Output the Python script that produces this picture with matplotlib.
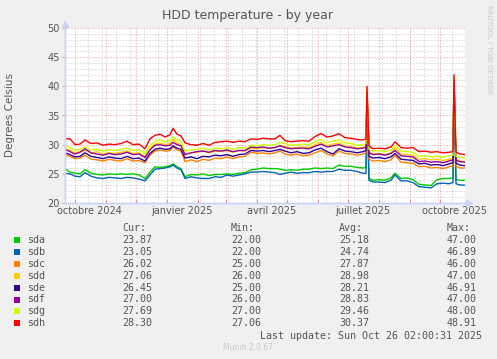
import numpy as np
import matplotlib
matplotlib.use('Agg')
import matplotlib.pyplot as plt
import matplotlib.dates as mdates
from matplotlib.lines import Line2D

# jours depuis le début du graphe (400 jours)
start = np.datetime64('2024-09-21T02:00')
days = [0, 5, 10, 15, 20, 26, 32, 38, 44, 50, 56, 62, 68, 74, 80, 85, 90, 95, 100, 105,
        108, 112, 116, 120, 126, 132, 138, 144, 150, 156, 162, 168, 174, 180, 186, 192, 198, 204, 210, 215,
        220, 226, 232, 238, 244, 250, 256, 262, 268, 274, 280, 286, 292, 298, 301, 302, 304, 308, 314, 320,
        326, 330, 336, 342, 348, 354, 360, 366, 372, 378, 384, 388, 389, 391, 395, 400]

sda = [25.9, 25.3, 25.1, 25.0, 25.7, 25.1, 24.9, 24.8, 25.0, 24.9, 25.0, 24.9, 25.0, 24.8, 24.2, 25.3, 26.2, 26.1, 26.2, 26.4,
       26.7, 26.2, 25.9, 24.5, 24.9, 24.8, 25.0, 24.7, 24.9, 24.9, 25.0, 24.9, 25.1, 25.2, 25.7, 25.8, 26.0, 25.9, 25.9, 25.8,
       25.6, 25.7, 25.6, 25.8, 25.8, 26.0, 25.9, 26.0, 25.9, 26.5, 26.3, 26.3, 26.1, 26.0, 26.1, 38.0, 24.2, 23.9, 24.0, 23.9,
       24.3, 25.1, 24.2, 24.3, 24.0, 23.2, 23.1, 23.0, 24.0, 24.2, 24.2, 24.3, 40.0, 24.0, 23.9, 23.9]
sdb = [25.1, 25.0, 24.6, 24.5, 25.2, 24.6, 24.3, 24.2, 24.4, 24.3, 24.2, 24.4, 24.3, 24.1, 23.8, 24.8, 25.8, 25.9, 26.0, 26.2,
       26.5, 26.0, 25.7, 24.2, 24.5, 24.3, 24.2, 24.2, 24.5, 24.4, 24.8, 24.6, 24.8, 25.0, 25.3, 25.3, 25.4, 25.3, 25.2, 24.9,
       25.1, 25.3, 25.1, 25.2, 25.2, 25.4, 25.3, 25.4, 25.4, 25.8, 25.6, 25.6, 25.4, 25.1, 25.1, 37.5, 23.9, 23.6, 23.6, 23.5,
       23.9, 24.8, 23.8, 23.8, 23.5, 22.8, 22.7, 22.6, 23.3, 23.4, 23.3, 23.5, 39.5, 23.3, 23.1, 23.05]
sdc = [28.3, 28.0, 27.6, 27.7, 28.2, 27.5, 27.4, 27.2, 27.5, 27.3, 27.2, 27.6, 27.2, 27.3, 26.9, 28.2, 28.9, 29.1, 28.9, 29.0,
       29.6, 29.1, 28.9, 27.1, 27.4, 27.1, 27.5, 27.3, 27.7, 27.6, 27.9, 27.6, 27.9, 28.0, 28.7, 28.5, 28.6, 28.4, 28.6, 28.9,
       28.4, 28.2, 28.4, 28.1, 28.2, 28.6, 29.0, 28.4, 28.1, 28.9, 28.5, 28.4, 28.2, 28.4, 28.6, 39.0, 27.5, 27.2, 27.3, 27.1,
       27.4, 28.2, 27.0, 26.9, 26.8, 26.2, 26.3, 26.0, 26.1, 25.9, 26.2, 26.4, 40.0, 26.3, 26.0, 26.0]
sdd = [29.3, 29.0, 28.6, 28.8, 29.1, 28.6, 28.8, 28.4, 28.6, 28.5, 28.7, 28.9, 28.5, 28.6, 28.0, 29.3, 30.1, 30.3, 30.0, 30.2,
       30.9, 30.3, 30.0, 28.4, 28.6, 28.7, 28.9, 28.6, 28.9, 28.8, 29.0, 28.7, 29.0, 28.9, 29.4, 29.3, 29.5, 29.4, 29.5, 29.9,
       29.7, 29.4, 29.5, 29.6, 29.5, 30.0, 30.4, 29.8, 30.1, 30.3, 29.8, 29.7, 29.4, 29.5, 29.7, 39.0, 28.7, 28.4, 28.5, 28.3,
       28.6, 29.4, 28.4, 28.3, 28.2, 27.5, 27.6, 27.4, 27.5, 27.3, 27.5, 27.6, 41.0, 27.5, 27.2, 27.1]
sde = [28.6, 28.3, 27.9, 28.0, 28.6, 28.0, 27.8, 27.6, 27.9, 27.7, 27.6, 28.0, 27.6, 27.7, 27.2, 28.5, 29.2, 29.4, 29.2, 29.3,
       29.8, 29.4, 29.2, 27.7, 27.9, 27.6, 28.0, 27.9, 28.2, 28.1, 28.3, 28.0, 28.3, 28.4, 29.0, 28.9, 29.0, 28.8, 29.0, 29.2,
       28.9, 28.6, 28.8, 28.5, 28.6, 29.1, 29.4, 28.8, 28.4, 29.3, 28.9, 28.8, 28.6, 28.8, 29.0, 38.5, 28.0, 27.7, 27.8, 27.6,
       27.9, 28.5, 27.5, 27.4, 27.3, 26.7, 26.8, 26.5, 26.6, 26.4, 26.7, 26.9, 40.5, 26.8, 26.5, 26.4]
sdf = [29.2, 28.8, 28.4, 28.7, 29.3, 28.6, 28.4, 28.2, 28.5, 28.3, 28.4, 28.7, 28.3, 28.4, 27.8, 29.1, 29.9, 30.0, 29.8, 29.9,
       30.4, 30.0, 29.8, 28.3, 28.6, 28.8, 28.9, 28.7, 29.0, 28.9, 29.1, 28.8, 29.0, 29.0, 29.6, 29.5, 29.6, 29.4, 29.5, 29.8,
       29.5, 29.3, 29.4, 29.4, 29.3, 29.7, 30.1, 29.6, 29.8, 30.0, 29.6, 29.5, 29.3, 29.4, 29.6, 39.0, 28.6, 28.3, 28.4, 28.2,
       28.5, 29.0, 28.1, 28.0, 27.9, 27.1, 27.2, 27.0, 27.1, 26.9, 27.2, 27.4, 41.0, 27.3, 27.1, 27.0]
sdg = [29.8, 29.5, 29.1, 29.2, 29.6, 29.1, 29.2, 28.9, 29.1, 29.0, 29.2, 29.4, 29.0, 29.1, 28.5, 29.8, 30.6, 30.8, 30.5, 30.7,
       31.4, 30.8, 30.5, 28.9, 29.1, 29.2, 29.4, 29.1, 29.4, 29.3, 29.5, 29.2, 29.5, 29.4, 29.9, 29.8, 30.0, 29.9, 30.0, 30.4,
       30.2, 29.9, 30.0, 30.1, 30.0, 30.5, 30.9, 30.3, 30.6, 30.8, 30.3, 30.2, 29.9, 30.0, 30.2, 39.5, 29.2, 28.9, 29.0, 28.8,
       29.1, 29.9, 28.9, 28.8, 28.7, 28.0, 28.1, 27.9, 28.0, 27.8, 28.1, 28.2, 41.5, 28.0, 27.8, 27.7]
sdh = [31.0, 31.0, 30.0, 30.1, 30.8, 30.2, 30.3, 29.9, 30.1, 30.0, 30.2, 30.6, 30.0, 30.1, 29.3, 31.0, 31.6, 31.8, 31.3, 31.7,
       32.8, 31.8, 31.5, 30.3, 30.0, 29.9, 30.2, 29.9, 30.4, 30.5, 30.6, 30.4, 30.6, 30.5, 31.0, 30.9, 31.1, 31.0, 31.0, 31.6,
       30.7, 30.5, 30.6, 30.7, 30.6, 31.4, 31.9, 31.3, 31.5, 31.9, 31.2, 31.1, 30.9, 30.8, 31.0, 40.0, 29.8, 29.3, 29.4, 29.3,
       29.6, 30.5, 29.5, 29.4, 29.5, 28.8, 28.9, 28.7, 28.8, 28.6, 28.7, 28.8, 42.0, 28.7, 28.4, 28.3]

names = ['sda', 'sdb', 'sdc', 'sdd', 'sde', 'sdf', 'sdg', 'sdh']
series = [sda, sdb, sdc, sdd, sde, sdf, sdg, sdh]
colors = ['#00CC00', '#0066B3', '#FF8000', '#FFCC00', '#330099', '#990099', '#CCFF00', '#FF0000']
cur = ['23.87', '23.05', '26.02', '27.06', '26.45', '27.00', '27.69', '28.30']
mins = ['22.00', '22.00', '25.00', '26.00', '25.00', '26.00', '27.00', '27.06']
avgs = ['25.18', '24.74', '27.87', '28.98', '28.21', '28.83', '29.46', '30.37']
maxs = ['47.00', '46.89', '46.00', '47.00', '46.91', '47.00', '48.00', '48.91']

month_labels = ['octobre 2024', 'janvier 2025', 'avril 2025', 'juillet 2025', 'octobre 2025']
label_dates = ['2024-10-16', '2025-01-16', '2025-04-16', '2025-07-16', '2025-10-16']

W, H = 497, 359
TXT = '#555555'
AXIS = '#c8d2f5'


def fx(px):
    return px / W


def fy(py):
    return 1 - py / H


fig = plt.figure(figsize=(W / 100, H / 100), dpi=100, facecolor='#f0f0f0')
ax = fig.add_axes([fx(65), fy(203), 400 / W, 175 / H])
ax.set_facecolor('white')

t = mdates.date2num(start + np.array(days) * np.timedelta64(1, 'D'))
x0 = mdates.date2num(start)
x1 = mdates.date2num(start + np.timedelta64(400, 'D'))
ax.set_xlim(x0, x1)
ax.set_ylim(20, 50)

# grille pointillée (fine, façon rrdtool)
dot = (0, (1, 2))
months = mdates.date2num(np.arange('2024-10', '2025-11', dtype='datetime64[M]').astype('datetime64[D]'))
weeks = mdates.date2num(np.arange(np.datetime64('2024-10-14'), np.datetime64('2025-10-27'), np.timedelta64(14, 'D')))
for w in weeks:
    ax.axvline(w, color='#c4c4c4', lw=0.72, ls=dot, zorder=0)
for v in range(21, 50):
    if v % 5:
        ax.axhline(v, color='#c4c4c4', lw=0.72, ls=dot, zorder=0)
for m in months:
    ax.axvline(m, color='#e09a9a', lw=0.72, ls=dot, zorder=0.5)
for v in range(25, 51, 5):
    ax.axhline(v, color='#e09a9a', lw=0.72, ls=dot, zorder=0.5)

for vals, c in zip(series, colors):
    ax.plot(t, vals, color=c, lw=1.0, zorder=2)

for s in ['top', 'right']:
    ax.spines[s].set_visible(False)
for s in ['left', 'bottom']:
    ax.spines[s].set_color(AXIS)
    ax.spines[s].set_linewidth(1.0)

ax.set_yticks(range(20, 51, 5))
ax.tick_params(axis='y', length=2, color='#e0a8a8', labelsize=7, labelcolor=TXT, pad=2)
ax.set_xticks(months)
ax.set_xticklabels([])
ax.tick_params(axis='x', which='major', length=2, direction='in', color='#e08080')
ax.set_xticks(mdates.date2num(np.array(label_dates, dtype='datetime64[D]')), minor=True)
ax.set_xticklabels(month_labels, minor=True)
ax.tick_params(axis='x', which='minor', length=0, labelsize=7, labelcolor=TXT, pad=2)

# flèches des axes
fig.add_artist(Line2D([fx(65), fx(470)], [fy(203), fy(203)], color=AXIS, lw=1.0))
fig.add_artist(Line2D([fx(65), fx(65)], [fy(203), fy(24)], color=AXIS, lw=1.0))
fig.add_artist(Line2D([fx(469)], [fy(203)], marker='>', ms=4, color=AXIS, mec=AXIS))
fig.add_artist(Line2D([fx(65)], [fy(24)], marker='^', ms=4, color=AXIS, mec=AXIS))

fig.text(fx(248), fy(16), 'HDD temperature - by year', ha='center', va='center', fontsize=9, color=TXT)
fig.text(fx(10), fy(115), 'Degrees Celsius', ha='center', va='center', rotation=90, fontsize=7.5, color=TXT)
fig.text(fx(489), fy(5), 'RRDTOOL / TOBI OETIKER', ha='center', va='top', rotation=270, fontsize=5, color='#c8c8c8')

# légende
mono = 'DejaVu Sans Mono'
cols = [122, 231, 339, 447]
for cx, head in zip(cols, ['Cur:', 'Min:', 'Avg:', 'Max:']):
    fig.text(fx(cx), fy(228), head, ha='left', va='center', family=mono, fontsize=7.2, color=TXT)
for i, name in enumerate(names):
    yy = 240 + i * 11.9
    fig.patches.append(plt.Rectangle((fx(14), fy(yy + 3)), 6 / W, 6 / H, transform=fig.transFigure,
                                     facecolor=colors[i], edgecolor='none'))
    fig.text(fx(27), fy(yy), name, ha='left', va='center', family=mono, fontsize=7.2, color=TXT)
    for cx, val in zip(cols, [cur[i], mins[i], avgs[i], maxs[i]]):
        fig.text(fx(cx), fy(yy), val, ha='left', va='center', family=mono, fontsize=7.2, color=TXT)

fig.text(fx(482), fy(336), 'Last update: Sun Oct 26 02:00:31 2025', ha='right', va='center',
         family=mono, fontsize=7.2, color=TXT)
fig.text(fx(248), fy(348), 'Munin 2.0.67', ha='center', va='center', fontsize=5.5, color='#c8c8c8')

fig.savefig('out.png', dpi=100, facecolor=fig.get_facecolor())
